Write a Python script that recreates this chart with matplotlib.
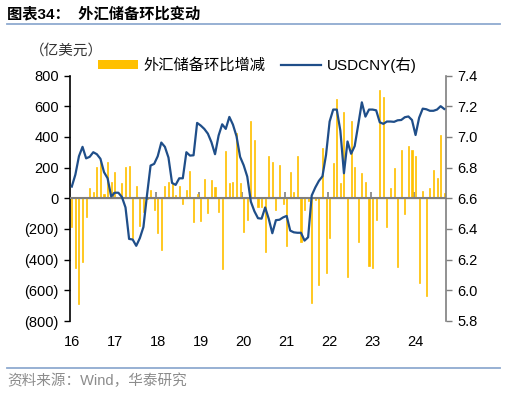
import numpy as np
import matplotlib
matplotlib.use("Agg")
import matplotlib.pyplot as plt
from matplotlib.patches import Patch
from matplotlib.lines import Line2D
from matplotlib.ticker import FuncFormatter

plt.rcParams['font.family'] = ['Liberation Sans', 'Noto Sans CJK SC']

# monthly data, Jan 2016 - Sep 2024
fx_change = [
    -187, -457, -691, -413, -122, 70, 39, 204, 245, 30, 238, 104,
    168, 5, 100, 204, 213, -262, 83, -180, -91, -5, 57, -78,
    -226, -336, 83, 109, 100, 22, 83, -39, 57, 178, -157, 30,
    -148, 126, -96, 122, 74, -87, -461, 309, 100, 104, 422, 100,
    -222, -143, 504, 378, -57, -57, -348, 278, 235, -78, 217, -39,
    -313, 170, 43, 278, -287, -78, -20, -683, -10, -565, 326, -487,
    -261, 230, 648, 100, 565, -513, 504, 204, -283, 165, 109, -443,
    -452, -139, 704, 661, -187, 65, 196, -448, 313, -100, 339, 317,
    278, -552, 48, -635, 65, 183, 135, 409, 35,
]
usdcny = [
    6.676, 6.754, 6.874, 6.935, 6.860, 6.870, 6.900, 6.887, 6.857, 6.770, 6.730, 6.612,
    6.636, 6.636, 6.608, 6.540, 6.335, 6.331, 6.290, 6.340, 6.412, 6.620, 6.813, 6.824,
    6.874, 6.963, 6.935, 6.865, 6.700, 6.687, 6.730, 6.730, 6.900, 6.878, 6.880, 7.091,
    7.074, 7.052, 7.021, 6.965, 6.887, 7.009, 7.082, 7.052, 7.130, 7.080, 7.004, 6.870,
    6.815, 6.741, 6.578, 6.515, 6.470, 6.467, 6.540, 6.466, 6.372, 6.457, 6.460, 6.475,
    6.485, 6.389, 6.378, 6.375, 6.375, 6.324, 6.346, 6.618, 6.670, 6.713, 6.743, 6.883,
    7.100, 7.178, 7.178, 7.040, 6.763, 6.970, 6.890, 6.940, 7.080, 7.225, 7.132, 7.178,
    7.178, 7.173, 7.095, 7.085, 7.100, 7.100, 7.098, 7.108, 7.110, 7.128, 7.133, 7.110,
    7.012, 7.125, 7.184, 7.180, 7.170, 7.170, 7.178, 7.200, 7.182,
]
year_labels = ['16', '17', '18', '19', '20', '21', '22', '23', '24']

bar_color = '#FFC000'
line_color = '#1F4E89'
rule_color = '#8FAAD0'

fig = plt.figure(figsize=(5.06, 3.93), dpi=100)
ax = fig.add_axes([70 / 506, 1 - 321 / 393, 376 / 506, 245.5 / 393])
ax2 = ax.twinx()

x = np.arange(len(fx_change))
ax.bar(x, fx_change, width=0.3, color=bar_color, edgecolor=bar_color, linewidth=0.5, zorder=2)
ax.axhline(0, color='#7F7F7F', lw=1.5, zorder=3)
ax2.plot(x, usdcny, color=line_color, lw=1.6, zorder=4)

ax.set_xlim(-0.5, len(fx_change) - 0.5)
ax.set_ylim(-800, 800)
ax2.set_ylim(5.8, 7.4)

ax.set_yticks(np.arange(-800, 801, 200))
ax.yaxis.set_major_formatter(FuncFormatter(lambda v, p: f"({abs(int(v))})" if v < 0 else f"{int(v)}"))
ax2.set_yticks(np.arange(5.8, 7.41, 0.2))
ax2.yaxis.set_major_formatter(FuncFormatter(lambda v, p: f"{v:.1f}"))

ax.set_xticks(x[::12])
ax.set_xticklabels(year_labels)
ax.tick_params(axis='x', length=0, labelsize=10.5, pad=10)
ax.tick_params(axis='y', length=4, width=1, labelsize=10.5, pad=4)
ax2.tick_params(axis='y', length=4, width=1, labelsize=10.5, pad=4, color='#7F7F7F')

for sp in ['top', 'bottom', 'right']:
    ax.spines[sp].set_visible(False)
for sp in ['top', 'bottom', 'left']:
    ax2.spines[sp].set_visible(False)
ax.spines['left'].set_linewidth(1.2)
ax2.spines['right'].set_color('#7F7F7F')
ax2.spines['right'].set_linewidth(1.2)

# small year ticks on the zero line
sec = ax.secondary_xaxis(0.5)
sec.set_xticks(x[12::12] - 0.5)
sec.set_xticklabels([])
sec.tick_params(length=4, width=1.2, color='#7F7F7F')
sec.spines['bottom'].set_visible(False)

# legend
handles = [Patch(facecolor=bar_color, edgecolor='none', label='外汇储备环比增减'),
           Line2D([], [], color=line_color, lw=1.6, label='USDCNY(右)')]
fig.legend(handles=handles, loc='center left', bbox_to_anchor=(98 / 506, 1 - 65 / 393),
           ncol=2, frameon=False, fontsize=11, handlelength=2.6, handleheight=0.45,
           handletextpad=0.4, columnspacing=1.0, borderpad=0, borderaxespad=0)

fig.text(30 / 506, 1 - 51 / 393, '（亿美元）', fontsize=10.5, color='#333333', va='center')

# title, rules and source
fig.text(7 / 506, 1 - 14 / 393, '图表34：  外汇储备环比变动', fontsize=11, fontweight='bold', va='center')
fig.add_artist(Line2D([7 / 506, 500 / 506], [1 - 24 / 393] * 2, color=rule_color, lw=1.3))
fig.add_artist(Line2D([7 / 506, 500 / 506], [1 - 368 / 393] * 2, color=rule_color, lw=1.3))
fig.text(7 / 506, 1 - 381 / 393, '资料来源：Wind，华泰研究', fontsize=10.5, color='#8C8C8C', va='center')

fig.savefig('out.png', dpi=100)
